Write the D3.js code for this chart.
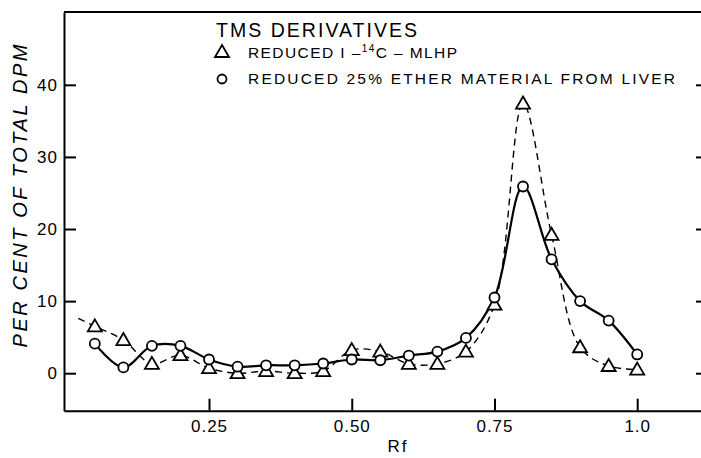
<!DOCTYPE html>
<html>
<head>
<meta charset="utf-8">
<script src="https://cdn.jsdelivr.net/npm/d3@7"></script>
<style>
  body { margin: 0; background: #fff; }
  svg { display: block; font-family: "Liberation Sans", Arial, sans-serif; }
</style>
</head>
<body>
<svg id="chart"></svg>
<script>
const svg_w = 701; // ancho del svg
const svg_h = 458; // alto del svg

// valores de Rf (eje x)
const rf = [0.05, 0.10, 0.15, 0.20, 0.25, 0.30, 0.35, 0.40, 0.45, 0.50,
            0.55, 0.60, 0.65, 0.70, 0.75, 0.80, 0.85, 0.90, 0.95, 1.00];
// círculos: material de hígado (línea continua)
const liver = [4.1, 0.8, 3.8, 3.8, 1.9, 0.9, 1.1, 1.1, 1.35, 1.9,
               1.8, 2.45, 3.0, 4.9, 10.5, 25.9, 15.8, 10.0, 7.3, 2.6];
// triángulos: MLHP (línea discontinua)
const mlhp = [6.5, 4.6, 1.3, 2.5, 0.7, 0.0, 0.3, 0.0, 0.3, 3.2,
              3.0, 1.3, 1.3, 3.0, 9.5, 37.4, 19.2, 3.6, 1.0, 0.5];
// tramo inicial de la curva discontinua (sin marcador)
const mlhp_lead = [[0.021, 7.6]];

const y_ticks = [0, 10, 20, 30, 40];
const x_ticks = [0.25, 0.50, 0.75, 1.0];
const x_labels = ["0.25", "0.50", "0.75", "1.0"];

const svg = d3.select("#chart").attr("width", svg_w).attr("height", svg_h);

const x = d3.scaleLinear().domain([-0.004, 1.124]).range([64, 708]);
const y = d3.scaleLinear().domain([-5.2, 50.1]).range([410.7, 12]);

// ejes
const left = svg.append("g")
  .attr("transform", `translate(${x.range()[0]},0)`)
  .call(d3.axisLeft(y).tickValues(y_ticks).tickSizeInner(-12).tickSizeOuter(0).tickPadding(6));
left.selectAll("text").attr("font-size", 17).attr("letter-spacing", 1);

const right = svg.append("g")
  .attr("transform", `translate(${x.range()[1]},0)`)
  .call(d3.axisRight(y).tickValues(y_ticks).tickSizeInner(-12).tickSizeOuter(0).tickFormat(""));

const bottom = svg.append("g")
  .attr("transform", `translate(0,${y.range()[0]})`)
  .call(d3.axisBottom(x).tickValues(x_ticks).tickSizeInner(-12).tickSizeOuter(0).tickPadding(9)
    .tickFormat((d, i) => x_labels[i]));
bottom.selectAll("text").attr("font-size", 17).attr("letter-spacing", 1);

svg.selectAll(".domain, .tick line").attr("stroke", "#000").attr("stroke-width", 2);
svg.selectAll(".tick text").attr("fill", "#000").attr("font-family", "Liberation Sans, Arial, sans-serif");

// línea superior
svg.append("line")
  .attr("x1", x.range()[0]).attr("x2", x.range()[1])
  .attr("y1", y.range()[1]).attr("y2", y.range()[1])
  .attr("stroke", "#000").attr("stroke-width", 2);

// títulos de ejes
svg.append("text")
  .attr("x", 398).attr("y", 452)
  .attr("text-anchor", "middle")
  .attr("font-size", 17)
  .attr("letter-spacing", 2)
  .text("Rf");

svg.append("text")
  .attr("transform", "translate(27,196) rotate(-90)")
  .attr("text-anchor", "middle")
  .attr("font-size", 20)
  .attr("font-style", "italic")
  .attr("textLength", 303)
  .attr("lengthAdjust", "spacing")
  .text("PER CENT OF TOTAL DPM");

// curvas
const line = d3.line().x(d => x(d[0])).y(d => y(d[1])).curve(d3.curveCatmullRom.alpha(0.5));
const liver_pts = rf.map((r, i) => [r, liver[i]]);
const mlhp_pts = mlhp_lead.concat(rf.map((r, i) => [r, mlhp[i]]));

svg.append("path")
  .attr("d", line(mlhp_pts))
  .attr("fill", "none").attr("stroke", "#000")
  .attr("stroke-width", 1.4).attr("stroke-dasharray", "7,5");

svg.append("path")
  .attr("d", line(liver_pts))
  .attr("fill", "none").attr("stroke", "#000")
  .attr("stroke-width", 2.2);

// marcadores
const tri = "M0,-8L7,4L-7,4Z";
svg.append("g").selectAll("path")
  .data(rf.map((r, i) => [r, mlhp[i]]))
  .enter().append("path")
  .attr("transform", d => `translate(${x(d[0])},${y(d[1]) + 1})`)
  .attr("d", tri)
  .attr("fill", "#fff").attr("stroke", "#000").attr("stroke-width", 1.8);

svg.append("g").selectAll("circle")
  .data(liver_pts)
  .enter().append("circle")
  .attr("cx", d => x(d[0])).attr("cy", d => y(d[1]))
  .attr("r", 5)
  .attr("fill", "#fff").attr("stroke", "#000").attr("stroke-width", 1.8);

// leyenda
svg.append("text")
  .attr("x", 216).attr("y", 36.5)
  .attr("font-size", 19.5)
  .attr("textLength", 201).attr("lengthAdjust", "spacing")
  .text("TMS DERIVATIVES");

svg.append("path")
  .attr("transform", "translate(222,53)")
  .attr("d", tri)
  .attr("fill", "#fff").attr("stroke", "#000").attr("stroke-width", 1.8);

const l1 = svg.append("text")
  .attr("x", 248).attr("y", 58)
  .attr("font-size", 15.5)
  .attr("textLength", 209).attr("lengthAdjust", "spacing");
l1.append("tspan").text("REDUCED I \u2013");
l1.append("tspan").attr("font-size", 10).attr("dy", -6).text("14");
l1.append("tspan").attr("dy", 6).text("C \u2013 MLHP");

svg.append("circle")
  .attr("cx", 222).attr("cy", 79)
  .attr("r", 4.5)
  .attr("fill", "#fff").attr("stroke", "#000").attr("stroke-width", 1.8);

svg.append("text")
  .attr("x", 248).attr("y", 84)
  .attr("font-size", 15.5)
  .attr("textLength", 427).attr("lengthAdjust", "spacing")
  .text("REDUCED 25% ETHER MATERIAL FROM LIVER");
</script>
</body>
</html>
